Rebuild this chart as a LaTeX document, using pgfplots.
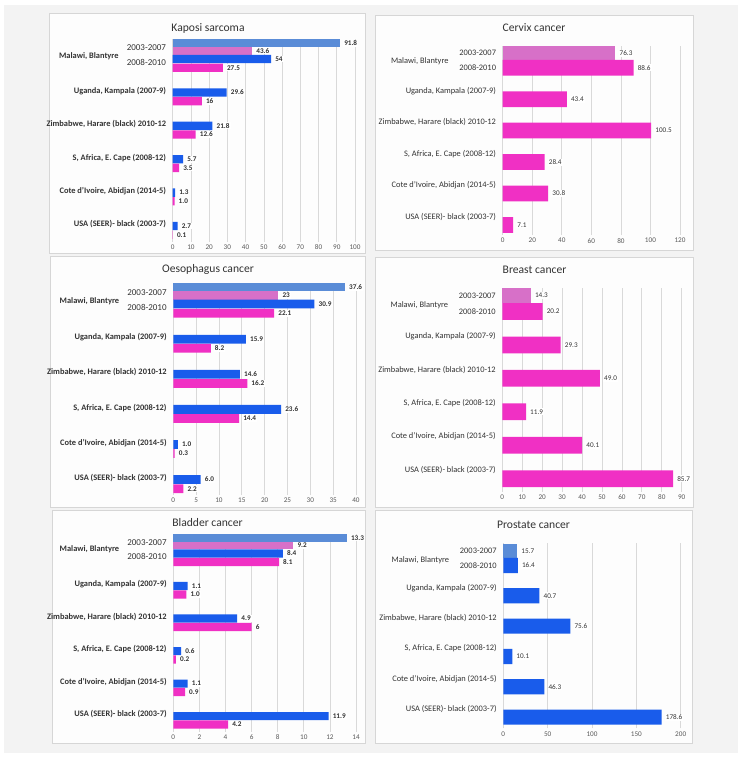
\documentclass[border=0pt]{standalone}
\usepackage{pgfplots}
\pgfplotsset{compat=1.18}
\usepackage{fontspec}
\setmainfont{Carlito}
\definecolor{bgc}{HTML}{F3F3F3}
\definecolor{panelc}{HTML}{FDFDFD}
\definecolor{borderc}{HTML}{D6D6D6}
\definecolor{gridc}{HTML}{D9D9D9}
\definecolor{lblue}{RGB}{90,140,215}
\definecolor{lpink}{RGB}{215,112,200}
\definecolor{cblue}{RGB}{25,92,235}
\definecolor{cpink}{RGB}{240,48,196}
\definecolor{tickc}{HTML}{595959}
\definecolor{labc}{HTML}{333333}
\definecolor{titc}{HTML}{333333}
\newcommand{\per}{\mdseries\fontsize{9bp}{10bp}\selectfont}
\pgfplotsset{
  panel/.style={
    scale only axis, anchor=north west, xmin=0, clip=false,
    axis line style={draw=none}, major tick length=0pt, tick style={draw=none},
    xmajorgrids, grid style={draw=gridc, line width=0.7bp},
    /pgf/number format/assume math mode=true,
    xticklabel style={inner sep=0pt, yshift=-3bp, font=\fontsize{7.2bp}{8bp}\selectfont, text=tickc},
    yticklabel style={inner sep=0pt, xshift=-6.5bp, text=labc},
    every node near coord/.append style={anchor=west, xshift=3bp, inner sep=1bp, fill=white, text=labc},
  },
  boldp/.style={
    yticklabel style={font=\bfseries\fontsize{8.4bp}{9bp}\selectfont},
    every node near coord/.append style={font=\bfseries\fontsize{7.2bp}{8bp}\selectfont},
  },
  regp/.style={
    yticklabel style={font=\fontsize{8.4bp}{9bp}\selectfont},
    every node near coord/.append style={font=\fontsize{7.2bp}{8bp}\selectfont},
  },
  fourbar/.style={
    ymax=0.73,
    ytick={-4.82,-3.82,-2.82,-1.82,-0.82,0.04,0.46},
    yticklabels={{USA (SEER)- black (2003-7)},{Cote d'Ivoire, Abidjan (2014-5)},{S, Africa, E. Cape (2008-12)},{Zimbabwe, Harare (black) 2010-12},{Uganda, Kampala (2007-9)},{\per 2008-2010},{\per 2003-2007}},
  },
  twobar/.style={
    ymax=0.72,
    ytick={-4.74,-3.74,-2.74,-1.74,-0.74,0,0.48},
    yticklabels={{USA (SEER)- black (2003-7)},{Cote d'Ivoire, Abidjan (2014-5)},{S, Africa, E. Cape (2008-12)},{Zimbabwe, Harare (black) 2010-12},{Uganda, Kampala (2007-9)},2008-2010,2003-2007},
  },
  lb4/.style={xbar, fill=lblue, draw=none, bar width=0.23, bar shift=0, point meta=explicit symbolic, nodes near coords},
  lp4/.style={xbar, fill=lpink, draw=none, bar width=0.23, bar shift=0, point meta=explicit symbolic, nodes near coords},
  b4/.style={xbar, fill=cblue, draw=none, bar width=0.25, bar shift=0, point meta=explicit symbolic, nodes near coords},
  p4/.style={xbar, fill=cpink, draw=none, bar width=0.25, bar shift=0, point meta=explicit symbolic, nodes near coords},
  l2/.style={xbar, fill=#1, draw=none, bar width=0.47, bar shift=0, point meta=explicit symbolic, nodes near coords},
  m2/.style={xbar, fill=#1, draw=none, bar width=0.5, bar shift=0, point meta=explicit symbolic, nodes near coords},
}
\newcommand{\bl}{\bfseries\fontsize{8.4bp}{9bp}\selectfont}
\newcommand{\rl}{\fontsize{8.4bp}{9bp}\selectfont}
\newcommand{\tf}{\fontsize{11.6bp}{13bp}\selectfont}
\begin{document}
\begin{tikzpicture}
\useasboundingbox (0,0) rectangle (745bp,-763bp);
\fill[white] (0,0) rectangle (745bp,-763bp);
\fill[bgc] (4bp,-5bp) rectangle (738bp,-753bp);
\filldraw[fill=panelc, draw=borderc, line width=0.8bp] (49bp,-13bp) rectangle (365bp,-253bp);
\filldraw[fill=panelc, draw=borderc, line width=0.8bp] (375bp,-15bp) rectangle (693bp,-250bp);
\filldraw[fill=panelc, draw=borderc, line width=0.8bp] (50bp,-256bp) rectangle (365bp,-507bp);
\filldraw[fill=panelc, draw=borderc, line width=0.8bp] (375bp,-257bp) rectangle (693bp,-507bp);
\filldraw[fill=panelc, draw=borderc, line width=0.8bp] (52bp,-510bp) rectangle (365bp,-743bp);
\filldraw[fill=panelc, draw=borderc, line width=0.8bp] (375bp,-510bp) rectangle (692bp,-743bp);

% Kaposi sarcoma
\begin{axis}[panel, boldp, fourbar, at={(172.7bp,-39bp)}, width=182.3bp, height=202.7bp,
  xmax=100, ymin=-5.34, xtick={0,10,...,100}]
\addplot[lb4] coordinates {(91.8,0.605) [91.8]};
\addplot[lp4] coordinates {(43.6,0.375) [43.6]};
\addplot[b4] coordinates {(54,0.13) [54] (29.6,-0.87) [29.6] (21.8,-1.87) [21.8] (5.7,-2.87) [5.7] (1.3,-3.87) [1.3] (2.7,-4.87) [2.7]};
\addplot[p4] coordinates {(27.5,-0.13) [27.5] (16,-1.13) [16] (12.6,-2.13) [12.6] (3.5,-3.13) [3.5] (1.0,-4.13) [1.0] (0.1,-5.13) [0.1]};
\node[anchor=east, inner sep=0pt, text=labc, font=\bl] at (axis cs:0,0.22) [xshift=-54bp] {Malawi, Blantyre};
\end{axis}

% Cervix cancer
\begin{axis}[panel, regp, twobar, at={(502.7bp,-46bp)}, width=177.3bp, height=189bp,
  xmax=120, ymax=0.69, ymin=-5.32, xtick={0,20,...,120}]
\addplot[l2=lpink] coordinates {(76.3,0.46) [76.3]};
\addplot[m2=cpink] coordinates {(88.6,0) [88.6] (43.4,-1) [43.4] (100.5,-2) [100.5] (28.4,-3) [28.4] (30.8,-4) [30.8] (7.1,-5) [7.1]};
\node[anchor=east, inner sep=0pt, text=labc, font=\rl] at (axis cs:0,0.19) [xshift=-54bp] {Malawi, Blantyre};
\end{axis}

% Oesophagus cancer
\begin{axis}[panel, boldp, fourbar, at={(173.3bp,-283bp)}, width=182.7bp, height=212bp,
  xmax=40, ymin=-5.31, xtick={0,5,...,40}]
\addplot[lb4] coordinates {(37.6,0.605) [37.6]};
\addplot[lp4] coordinates {(23,0.375) [23]};
\addplot[b4] coordinates {(30.9,0.13) [30.9] (15.9,-0.87) [15.9] (14.6,-1.87) [14.6] (23.6,-2.87) [23.6] (1.0,-3.87) [1.0] (6.0,-4.87) [6.0]};
\addplot[p4] coordinates {(22.1,-0.13) [22.1] (8.2,-1.13) [8.2] (16.2,-2.13) [16.2] (14.4,-3.13) [14.4] (0.3,-4.13) [0.3] (2.2,-5.13) [2.2]};
\node[anchor=east, inner sep=0pt, text=labc, font=\bl] at (axis cs:0,0.22) [xshift=-54bp] {Malawi, Blantyre};
\end{axis}

% Breast cancer
\begin{axis}[panel, regp, twobar, at={(502.3bp,-287.7bp)}, width=179.4bp, height=204bp,
  xmax=90, ymax=0.71, ymin=-5.39, xtick={0,10,...,90}]
\addplot[l2=lpink] coordinates {(14.3,0.475) [14.3]};
\addplot[m2=cpink] coordinates {(20.2,0) [20.2] (29.3,-1) [29.3] (49.0,-2) [49.0] (11.9,-3) [11.9] (40.1,-4) [40.1] (85.7,-5) [85.7]};
\node[anchor=east, inner sep=0pt, text=labc, font=\rl] at (axis cs:0,0.19) [xshift=-54bp] {Malawi, Blantyre};
\end{axis}

% Bladder cancer
\begin{axis}[panel, boldp, fourbar, at={(173.3bp,-534bp)}, width=182.7bp, height=197.7bp,
  xmax=14, ymin=-5.35, xtick={0,2,...,14}]
\addplot[lb4] coordinates {(13.3,0.605) [13.3]};
\addplot[lp4] coordinates {(9.2,0.375) [9.2]};
\addplot[b4] coordinates {(8.4,0.13) [8.4] (1.1,-0.87) [1.1] (4.9,-1.87) [4.9] (0.6,-2.87) [0.6] (1.1,-3.87) [1.1] (11.9,-4.87) [11.9]};
\addplot[p4] coordinates {(8.1,-0.13) [8.1] (1.0,-1.13) [1.0] (6,-2.13) [6] (0.2,-3.13) [0.2] (0.9,-4.13) [0.9] (4.2,-5.13) [4.2]};
\node[anchor=east, inner sep=0pt, text=labc, font=\bl] at (axis cs:0,0.26) [xshift=-54bp] {Malawi, Blantyre};
\end{axis}

% Prostate cancer
\begin{axis}[panel, regp, twobar, at={(503.3bp,-543.3bp)}, width=177.4bp, height=185bp,
  xmax=200, ymax=0.73, ymin=-5.37, xtick={0,50,...,200}]
\addplot[l2=lblue] coordinates {(15.7,0.48) [15.7]};
\addplot[m2=cblue] coordinates {(16.4,0) [16.4] (40.7,-1) [40.7] (75.6,-2) [75.6] (10.1,-3) [10.1] (46.3,-4) [46.3] (178.6,-5) [178.6]};
\node[anchor=east, inner sep=0pt, text=labc, font=\rl] at (axis cs:0,0.18) [xshift=-54bp] {Malawi, Blantyre};
\end{axis}

\node[font=\tf, text=titc] at (208bp,-28bp) {Kaposi sarcoma};
\node[font=\tf, text=titc] at (534bp,-28bp) {Cervix cancer};
\node[font=\tf, text=titc] at (208bp,-269bp) {Oesophagus cancer};
\node[font=\tf, text=titc] at (534.5bp,-270bp) {Breast cancer};
\node[font=\tf, text=titc] at (207.5bp,-523bp) {Bladder cancer};
\node[font=\tf, text=titc] at (533.5bp,-525bp) {Prostate cancer};
\end{tikzpicture}
\end{document}
